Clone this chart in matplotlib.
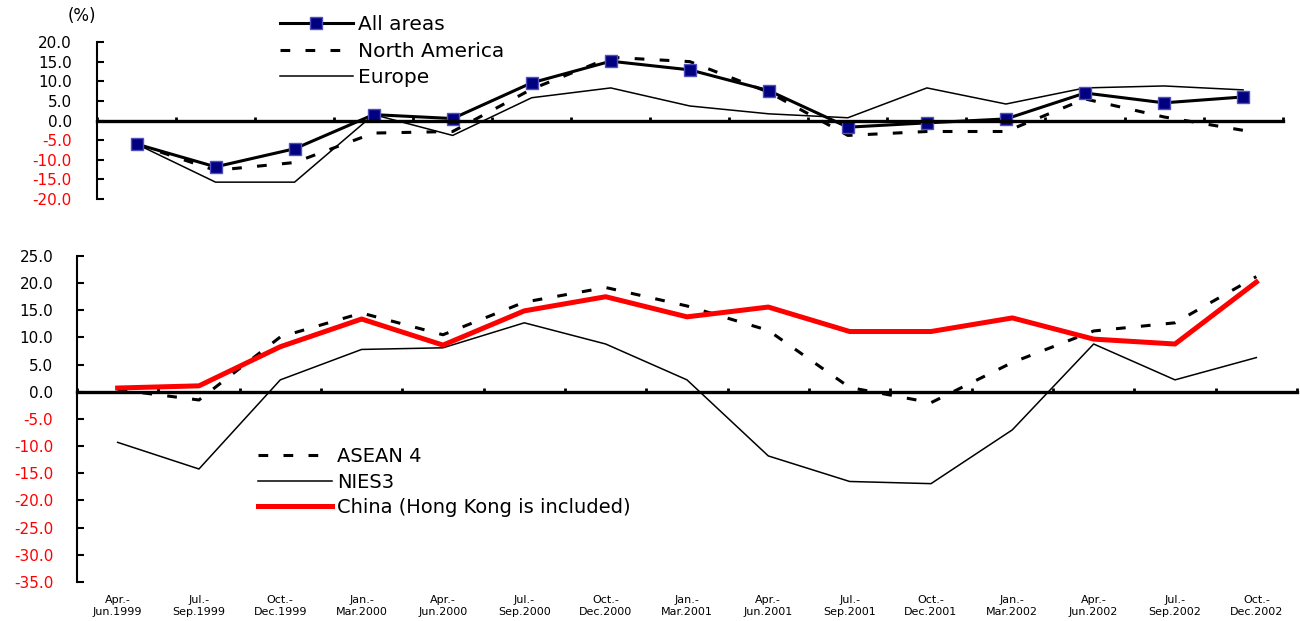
import numpy as np
import matplotlib
matplotlib.use("Agg")
import matplotlib.pyplot as plt
import matplotlib.transforms as mtransforms

plt.rcParams['font.family'] = ['DejaVu Sans']
plt.rcParams['lines.scale_dashes'] = False

# quarters, Apr.-Jun.1999 .. Oct.-Dec.2002
quarters = ["Apr.-\nJun.1999", "Jul.-\nSep.1999", "Oct.-\nDec.1999", "Jan.-\nMar.2000",
            "Apr.-\nJun.2000", "Jul.-\nSep.2000", "Oct.-\nDec.2000", "Jan.-\nMar.2001",
            "Apr.-\nJun.2001", "Jul.-\nSep.2001", "Oct.-\nDec.2001", "Jan.-\nMar.2002",
            "Apr.-\nJun.2002", "Jul.-\nSep.2002", "Oct.-\nDec.2002"]

# upper panel (%)
all_areas = [-6.0, -11.8, -7.2, 1.5, 0.5, 9.6, 15.1, 12.9, 7.6, -1.7, -0.6, 0.4, 7.0, 4.5, 6.0]
north_america = [-6.0, -12.7, -10.7, -3.2, -2.8, 8.0, 16.1, 15.0, 7.2, -3.8, -2.8, -2.8, 5.5, 0.9, -2.5]
europe = [-6.0, -15.7, -15.7, 1.5, -3.8, 5.8, 8.3, 3.7, 1.7, 0.7, 8.3, 4.2, 8.3, 8.8, 7.8]

# lower panel (%)
asean4 = [0.4, -1.5, 10.1, 14.5, 10.5, 16.5, 19.2, 15.8, 11.3, 0.8, -2.0, 5.4, 11.2, 12.7, 21.2]
nies3 = [-9.3, -14.2, 2.2, 7.8, 8.1, 12.7, 8.8, 2.2, -11.8, -16.5, -16.9, -7.0, 8.8, 2.2, 6.3]
china = [0.7, 1.1, 8.3, 13.4, 8.6, 14.9, 17.5, 13.8, 15.6, 11.1, 11.1, 13.6, 9.7, 8.8, 20.2]

top_ticks = np.arange(-20, 21, 5)
bottom_ticks = np.arange(-35, 26, 5)

x = np.arange(len(quarters))
DASH = (0, (7, 11))

fig = plt.figure(figsize=(13, 6.21), dpi=100)
ax1 = fig.add_axes([0.0746, 0.6795, 0.912, 0.2529])
ax2 = fig.add_axes([0.0592, 0.0628, 0.9385, 0.525])


def style_axis(ax, ticks, pad):
    ax.set_xlim(-0.5, len(quarters) - 0.5)
    ax.set_ylim(ticks[0], ticks[-1])
    for s in ['top', 'right']:
        ax.spines[s].set_visible(False)
    ax.spines['bottom'].set_position(('data', 0))
    ax.spines['bottom'].set_linewidth(2.4)
    ax.spines['left'].set_linewidth(1.5)
    ax.set_xticks(np.arange(-0.5, len(quarters), 1))
    ax.tick_params(axis='x', direction='in', length=3, width=2, labelbottom=False)
    ax.set_yticks(ticks)
    ax.set_yticklabels(['%.1f' % t for t in ticks])
    ax.tick_params(axis='y', direction='in', length=5, width=1.5, pad=pad, labelsize=11)
    for t, lab in zip(ticks, ax.get_yticklabels()):
        lab.set_color('red' if t < 0 else 'black')


style_axis(ax1, top_ticks, 18)
style_axis(ax2, bottom_ticks, 17)

# upper panel
ax1.plot(x, europe, color='black', lw=1.1, label='Europe')
ax1.plot(x, north_america, color='black', lw=2.2, linestyle=DASH, label='North America')
ax1.plot(x, all_areas, color='black', lw=2.2, marker='s', markersize=9,
         markerfacecolor='#000080', markeredgecolor='#5050c0', markeredgewidth=1,
         label='All areas')
h, l = ax1.get_legend_handles_labels()
fig.legend(h[::-1], l[::-1], loc='upper left', bbox_to_anchor=(280 / 1300, 1 - 15 / 621),
           frameon=False, fontsize=14.5, handlelength=3.6, handletextpad=0.25,
           labelspacing=0.38, borderpad=0, borderaxespad=0)
fig.text(68 / 1300, 1 - 16 / 621, '(%)', fontsize=12, va='center', ha='left')

# lower panel
ax2.plot(x, asean4, color='black', lw=2.2, linestyle=DASH, label='ASEAN 4')
ax2.plot(x, nies3, color='black', lw=1.1, label='NIES3')
ax2.plot(x, china, color='#ff0000', lw=3.6, label='China (Hong Kong is included)')
fig.legend(loc='upper left', handles=ax2.get_legend_handles_labels()[0],
           bbox_to_anchor=(258 / 1300, 1 - 447 / 621),
           frameon=False, fontsize=14, handlelength=3.8, handletextpad=0.25,
           labelspacing=0.34, borderpad=0, borderaxespad=0)

trans = mtransforms.blended_transform_factory(ax2.transData, ax2.transAxes)
for i, q in enumerate(quarters):
    ax2.text(i, -0.04, q, transform=trans, ha='center', va='top', fontsize=8,
             linespacing=1.3)

fig.savefig('out.png', dpi=100)
